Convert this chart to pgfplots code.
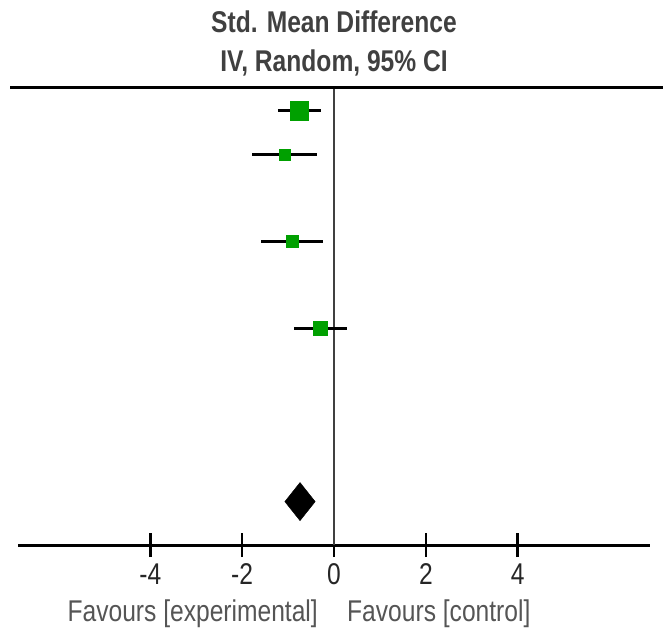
\documentclass[border=0pt]{standalone}
\usepackage{fontspec}
\setmainfont{Liberation Sans}[FakeStretch=0.82]
\usepackage{pgfplots}
\pgfplotsset{compat=1.18}
\definecolor{sqgreen}{HTML}{00A000}
\definecolor{hdgray}{HTML}{404040}
\definecolor{lbgray}{HTML}{555555}
\begin{document}
\begin{tikzpicture}
\begin{axis}[
  at={(18pt,85pt)}, anchor=south west,
  scale only axis, width=632pt, height=457pt,
  xmin=-6.88, xmax=6.88, ymin=-10, ymax=0.53,
  axis x line*=bottom, axis y line=none,
  x axis line style={line width=3pt, black, -},
  xtick={-4,-2,0,2,4},
  xticklabels={-4,-2,0,2,4},
  tick align=center,
  major tick length=24pt,
  xtick style={line width=2.5pt, black},
  xticklabel style={font=\fontsize{30}{34}\selectfont, text=black!85, yshift=-3pt},
  clip=false,
]
% zero line
\addplot[hdgray, line width=2pt] coordinates {(0,-10) (0,0.53)};
% confidence intervals
\addplot[black, line width=3pt] coordinates {(-1.22,0) (-0.28,0)};
\addplot[black, line width=3pt] coordinates {(-1.78,-1) (-0.38,-1)};
\addplot[black, line width=3pt] coordinates {(-1.58,-3) (-0.23,-3)};
\addplot[black, line width=3pt] coordinates {(-0.87,-5) (0.28,-5)};
% point estimates
\addplot[only marks, mark=square*, mark size=9.3pt, sqgreen] coordinates {(-0.76,0)};
\addplot[only marks, mark=square*, mark size=5.6pt, sqgreen] coordinates {(-1.07,-1)};
\addplot[only marks, mark=square*, mark size=6pt, sqgreen] coordinates {(-0.91,-3)};
\addplot[only marks, mark=square*, mark size=7pt, sqgreen] coordinates {(-0.29,-5)};
% pooled estimate
\addplot[fill=black, draw=black] coordinates {(-1.07,-9) (-0.74,-8.56) (-0.41,-9) (-0.74,-9.44)} -- cycle;
\end{axis}
\draw[line width=3pt, black] (10pt,542pt) -- (663pt,542pt);
\node[anchor=base, text=hdgray, font=\bfseries\fontsize{30}{34}\selectfont, inner sep=0pt] at (334pt,597pt) {Std. Mean Difference};
\node[anchor=base, text=hdgray, font=\bfseries\fontsize{30}{34}\selectfont, inner sep=0pt] at (334pt,558pt) {IV, Random, 95\% CI};
\node[anchor=base east, text=lbgray, font=\fontsize{30}{34}\selectfont, inner sep=0pt] at (318pt,8.3pt) {Favours [experimental]};
\node[anchor=base west, text=lbgray, font=\fontsize{30}{34}\selectfont, inner sep=0pt] at (347pt,8.3pt) {Favours [control]};
\pgfresetboundingbox
\path[use as bounding box] (0,0) rectangle (663pt,630pt);
\end{tikzpicture}
\end{document}
